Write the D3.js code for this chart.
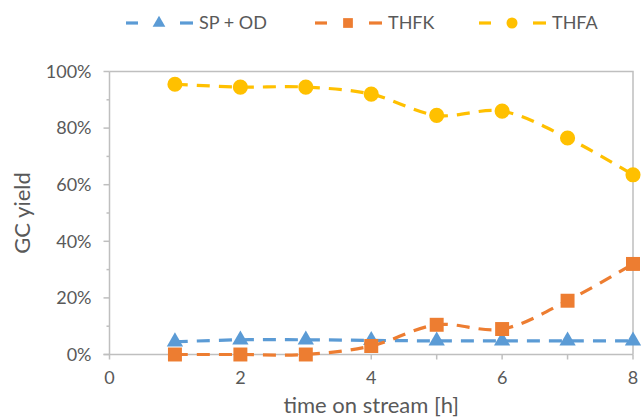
<!DOCTYPE html>
<html lang="en">
<head>
  <meta charset="UTF-8">
  <title>GC yield</title>
  <script src="https://cdn.jsdelivr.net/npm/d3@7/dist/d3.min.js"></script>
  <style>
    * { margin: 0; padding: 0; }
    body { background: #fff; }
    text { font-family: Lato, "Open Sans", sans-serif; fill: #595959; }
  </style>
</head>
<body>
  <div id="chart"></div>
  <script>
  // data
  var hours = [1, 2, 3, 4, 5, 6, 7, 8];
  var spod = [0.045, 0.052, 0.052, 0.050, 0.048, 0.048, 0.048, 0.048];
  var thfk = [0.0, 0.0, 0.0, 0.03, 0.105, 0.09, 0.19, 0.32];
  var thfa = [0.955, 0.945, 0.945, 0.92, 0.845, 0.86, 0.765, 0.635];
  var xTicks = [0, 2, 4, 6, 8];
  var yTicks = [0, 0.2, 0.4, 0.6, 0.8, 1];

  var series = [
    {name: "SP + OD", values: spod, color: "#5B9BD5", shape: d3.symbolTriangle},
    {name: "THFK", values: thfk, color: "#ED7D31", shape: d3.symbolSquare},
    {name: "THFA", values: thfa, color: "#FFC000", shape: d3.symbolCircle}
  ];

  var width = 641, height = 418;
  var svg = d3.select("#chart").append("svg")
      .attr("width", width)
      .attr("height", height);

  var x = d3.scaleLinear().domain([0, 8]).range([109.5, 633]);
  var y = d3.scaleLinear().domain([0, 1]).range([354.5, 71.5]);
  var grey = "#bfbfbf";

  // plot frame (top and right)
  svg.append("path")
    .attr("d", "M" + x(0) + "," + y(1) + "H" + x(8) + "V" + y(0))
    .attr("fill", "none").attr("stroke", grey).attr("stroke-width", 1.5);

  // y axis
  var yAxis = svg.append("g").attr("transform", "translate(" + x(0) + ",0)");
  yAxis.append("line").attr("y1", y(0)).attr("y2", y(1))
    .attr("stroke", grey).attr("stroke-width", 1.5);
  yAxis.selectAll(".minor").data(d3.range(0.1, 1, 0.2)).enter().append("line")
    .attr("x1", -3).attr("x2", 0)
    .attr("y1", function(d) { return y(d); }).attr("y2", function(d) { return y(d); })
    .attr("stroke", grey).attr("stroke-width", 1.5);
  yAxis.selectAll(".major").data(yTicks).enter().append("line")
    .attr("x1", -6).attr("x2", 0)
    .attr("y1", function(d) { return y(d); }).attr("y2", function(d) { return y(d); })
    .attr("stroke", grey).attr("stroke-width", 1.5);
  yAxis.selectAll("text").data(yTicks).enter().append("text")
    .attr("x", -18).attr("y", function(d) { return y(d); })
    .attr("dy", "0.35em").attr("text-anchor", "end")
    .style("font-size", "18px")
    .text(function(d) { return d3.format(".0%")(d); });

  // x axis
  var xAxis = svg.append("g").attr("transform", "translate(0," + y(0) + ")");
  xAxis.append("line").attr("x1", x(0) - 6).attr("x2", x(8))
    .attr("stroke", grey).attr("stroke-width", 1.5);
  xAxis.selectAll(".tick").data(d3.range(0, 9)).enter().append("line")
    .attr("x1", function(d) { return x(d); }).attr("x2", function(d) { return x(d); })
    .attr("y1", 0).attr("y2", 5)
    .attr("stroke", grey).attr("stroke-width", 1.5);
  xAxis.selectAll("text").data(xTicks).enter().append("text")
    .attr("x", function(d) { return x(d); }).attr("y", 29)
    .attr("text-anchor", "middle")
    .style("font-size", "18px")
    .text(function(d) { return d; });

  // axis titles
  svg.append("text")
    .attr("transform", "translate(30," + ((y(0) + y(1)) / 2) + ") rotate(-90)")
    .attr("text-anchor", "middle")
    .style("font-size", "22px")
    .text("GC yield");
  svg.append("text")
    .attr("x", (x(0) + x(8)) / 2).attr("y", 413)
    .attr("text-anchor", "middle")
    .style("font-size", "22px")
    .text("time on stream [h]");

  // lines + markers
  var line = d3.line()
    .x(function(d, i) { return x(hours[i]); })
    .y(function(d) { return y(d); })
    .curve(d3.curveCatmullRom.alpha(0.5));

  series.forEach(function(s) {
    svg.append("path")
      .attr("d", line(s.values))
      .attr("fill", "none")
      .attr("stroke", s.color)
      .attr("stroke-width", 3.2)
      .attr("stroke-dasharray", "13,9");
    svg.selectAll(null).data(s.values).enter().append("path")
      .attr("transform", function(d, i) { return "translate(" + x(hours[i]) + "," + y(d) + ")"; })
      .attr("d", d3.symbol().type(s.shape).size(s.shape === d3.symbolTriangle ? 115 : s.shape === d3.symbolSquare ? 195 : 180))
      .attr("fill", s.color);
  });

  // legend
  var legendX = [126, 315, 479];
  series.forEach(function(s, i) {
    var g = svg.append("g").attr("transform", "translate(" + legendX[i] + ",23)");
    g.append("line").attr("x1", 0).attr("x2", 12).attr("stroke", s.color).attr("stroke-width", 3.2);
    g.append("line").attr("x1", 54).attr("x2", 67).attr("stroke", s.color).attr("stroke-width", 3.2);
    g.append("path")
      .attr("transform", "translate(33,0)")
      .attr("d", d3.symbol().type(s.shape).size(s.shape === d3.symbolTriangle ? 70 : 95))
      .attr("fill", s.color);
    g.append("text").attr("x", 73).attr("dy", "0.35em")
      .style("font-size", "18px")
      .text(s.name);
  });
  </script>
</body>
</html>
